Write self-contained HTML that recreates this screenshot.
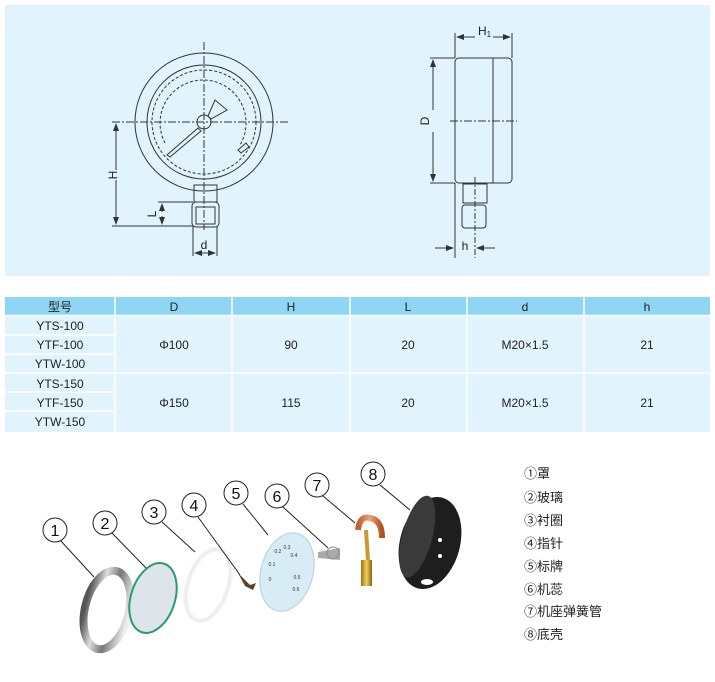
<!DOCTYPE html>
<html><head><meta charset="utf-8"><style>
body{margin:0;width:715px;height:682px;background:#fff;font-family:"Liberation Sans","Noto Sans CJK SC",sans-serif;position:relative;overflow:hidden}
svg{position:absolute;left:0;top:0}
</style></head><body>
<svg width="715" height="682" viewBox="0 0 715 682">
<defs>
<marker id="a" markerWidth="8" markerHeight="6" refX="7" refY="3" orient="auto"><path d="M0,0 L8,3 L0,6z" fill="#333"/></marker>
<linearGradient id="met" x1="0" x2="1"><stop offset="0" stop-color="#555"/><stop offset=".3" stop-color="#ddd"/><stop offset=".6" stop-color="#777"/><stop offset="1" stop-color="#eee"/></linearGradient>
<linearGradient id="cu" x1="0" x2="1"><stop offset="0" stop-color="#c06030"/><stop offset=".5" stop-color="#f0a070"/><stop offset="1" stop-color="#b05020"/></linearGradient>
<linearGradient id="br" x1="0" x2="1"><stop offset="0" stop-color="#a07010"/><stop offset=".5" stop-color="#f0d060"/><stop offset="1" stop-color="#906010"/></linearGradient>
</defs>
<rect x="5" y="5" width="705" height="271" fill="#e1f3fc"/>
<g fill="none" stroke="#333" stroke-width="1">
<circle cx="204" cy="122" r="69"/>
<circle cx="204" cy="122" r="57"/>
<circle cx="204" cy="122" r="52" stroke-dasharray="3,2"/>
<path d="M165,143 A43,43 0 1 1 240,145" stroke-dasharray="3,2"/>
<circle cx="204" cy="122" r="7" fill="#e1f3fc"/>
<path d="M198,128 L167,155 L170,157 L201,131z"/>
<path d="M208,116 L215,100 L227,110 L211,119z"/>
<path d="M238,150 L246,143 L249,147 L241,153z"/>
<path d="M112,122 H290 M204,42 V230" stroke-dasharray="8,2,2,2"/>
<rect x="194" y="185" width="23" height="17"/>
<rect x="192" y="202" width="27" height="25" rx="4"/>
<rect x="196" y="207" width="19" height="17"/>
<path d="M112,226 H193 M158,202 H193"/>
<path d="M116,170 V124" marker-end="url(#a)"/><path d="M116,180 V224" marker-end="url(#a)"/>
<path d="M162,212 V204" marker-end="url(#a)"/><path d="M162,216 V224" marker-end="url(#a)"/>
<path d="M193,226 V256 M217,226 V256"/>
<path d="M205,253 H195" marker-end="url(#a)"/><path d="M205,253 H215" marker-end="url(#a)"/>
<rect x="455" y="58" width="57" height="125" rx="4"/>
<path d="M493,58 V183"/>
<path d="M450,121 H517" stroke-dasharray="8,2,2,2"/>
<path d="M430,58 H455 M430,183 H455"/>
<path d="M433,110 V60" marker-end="url(#a)"/><path d="M433,132 V181" marker-end="url(#a)"/>
<path d="M455,33 V58 M512,33 V58"/>
<path d="M475,37 H457" marker-end="url(#a)"/><path d="M493,37 H510" marker-end="url(#a)"/>
<rect x="463" y="184" width="24" height="19"/>
<rect x="462" y="205" width="24" height="23" rx="3"/>
<path d="M475,177 V258" stroke-dasharray="6,2,2,2"/>
<path d="M455,183 V258"/>
<path d="M435,248 H453" marker-end="url(#a)"/><path d="M495,248 H477" marker-end="url(#a)"/>
</g>
<g font-size="12" fill="#222">
<text transform="translate(117,175) rotate(-90)" text-anchor="middle">H</text>
<text transform="translate(156,214) rotate(-90)" text-anchor="middle">L</text>
<text x="204" y="249" text-anchor="middle">d</text>
<text transform="translate(429,121) rotate(-90)" text-anchor="middle">D</text>
<text x="478" y="35">H<tspan font-size="8" dy="2">1</tspan></text>
<text x="465" y="250" text-anchor="middle">h</text>
</g>
<rect x="5" y="297" width="705" height="18" fill="#8fd6f5"/>
<rect x="5" y="316" width="705" height="116" fill="#e1f3fc"/>
<g stroke="#fff" stroke-width="1.5">
<path d="M115,297 V432 M232,297 V432 M350,297 V432 M467,297 V432 M584,297 V432"/>
<path d="M5,315.5 H710 M5,373 H710 M5,335 H115 M5,354 H115 M5,392 H115 M5,411 H115"/>
</g>
<g text-anchor="middle" font-size="12" fill="#222">
<text x="60" y="311">型号</text><text x="174" y="311">D</text><text x="291" y="311">H</text><text x="408" y="311">L</text><text x="525" y="311">d</text><text x="647" y="311">h</text>
<text x="60" y="330">YTS-100</text><text x="60" y="349">YTF-100</text><text x="60" y="368">YTW-100</text>
<text x="60" y="388">YTS-150</text><text x="60" y="407">YTF-150</text><text x="60" y="426">YTW-150</text>
<text x="174" y="349">Φ100</text><text x="291" y="349">90</text><text x="408" y="349">20</text><text x="525" y="349">M20×1.5</text><text x="647" y="349">21</text>
<text x="174" y="407">Φ150</text><text x="291" y="407">115</text><text x="408" y="407">20</text><text x="525" y="407">M20×1.5</text><text x="647" y="407">21</text>
</g>
<g transform="rotate(14 107 610)"><ellipse cx="107" cy="610" rx="22" ry="40" fill="none" stroke="url(#met)" stroke-width="8"/></g>
<g transform="rotate(18 153 598)"><ellipse cx="153" cy="598" rx="22" ry="36" fill="#dde4ea" stroke="#2a9a70" stroke-width="2"/></g>
<g transform="rotate(18 208 585)"><ellipse cx="208" cy="585" rx="20" ry="37" fill="none" stroke="#f4f4f4" stroke-width="5"/><ellipse cx="208" cy="585" rx="20" ry="37" fill="none" stroke="#ddd" stroke-width="0.6"/></g>
<path d="M238,573 L250,585 L256,583 L253,590 L245,586z" fill="#554422"/>
<g transform="rotate(15 287 572)"><ellipse cx="287" cy="572" rx="26" ry="40" fill="#d8ecf6" stroke="#bcd" stroke-width="1"/></g>
<g font-size="5" fill="#333" text-anchor="middle"><text x="278" y="553">0.2</text><text x="287" y="549">0.3</text><text x="294" y="557">0.4</text><text x="272" y="566">0.1</text><text x="297" y="579">0.5</text><text x="270" y="581">0</text><text x="296" y="591">0.6</text></g>
<path d="M318,552 L340,548 L340,560 L318,558z" fill="#aaa"/><circle cx="333" cy="553" r="6" fill="none" stroke="#888"/>
<path d="M358,530 Q360,515 370,518 Q382,520 382,538" fill="none" stroke="url(#cu)" stroke-width="6"/>
<path d="M366,530 L368,560" stroke="#c89a30" stroke-width="4"/>
<rect x="361" y="560" width="11" height="26" fill="url(#br)"/>
<g transform="rotate(15 430 543)"><ellipse cx="430" cy="543" rx="30" ry="47" fill="#1e1e1e"/><ellipse cx="416" cy="540" rx="15" ry="42" fill="#3a3a3a"/></g>
<circle cx="440" cy="540" r="2" fill="#fff"/><circle cx="440" cy="556" r="2" fill="#fff"/><ellipse cx="427" cy="582" rx="6" ry="3" fill="#fff"/>
<g fill="#fff" stroke="#222" stroke-width="1">
<path d="M60,540 L94,577 M112,533 L146,568 M162,522 L195,552 M198,517 L240,575 M243,504 L268,535 M283,507 L328,548 M323,496 L355,523 M380,485 L410,510" fill="none"/>
<circle cx="55" cy="530" r="12"/><circle cx="105" cy="523" r="12"/><circle cx="154" cy="512" r="12"/><circle cx="194" cy="505" r="12"/><circle cx="236" cy="493" r="12"/><circle cx="277" cy="496" r="12"/><circle cx="317" cy="485" r="12"/><circle cx="373" cy="474" r="12"/>
</g>
<g font-size="16" fill="#111" text-anchor="middle">
<text x="55" y="536">1</text><text x="105" y="529">2</text><text x="154" y="518">3</text><text x="194" y="511">4</text><text x="236" y="499">5</text><text x="277" y="502">6</text><text x="317" y="491">7</text><text x="373" y="480">8</text>
</g>
<g font-size="13" fill="#222">
<text x="524" y="478">①罩</text><text x="524" y="502">②玻璃</text><text x="524" y="525">③衬圈</text><text x="524" y="548">④指针</text>
<text x="524" y="571">⑤标牌</text><text x="524" y="594">⑥机蕊</text><text x="524" y="616">⑦机座弹簧管</text><text x="524" y="639">⑧底壳</text>
</g>
</svg>
</body></html>
